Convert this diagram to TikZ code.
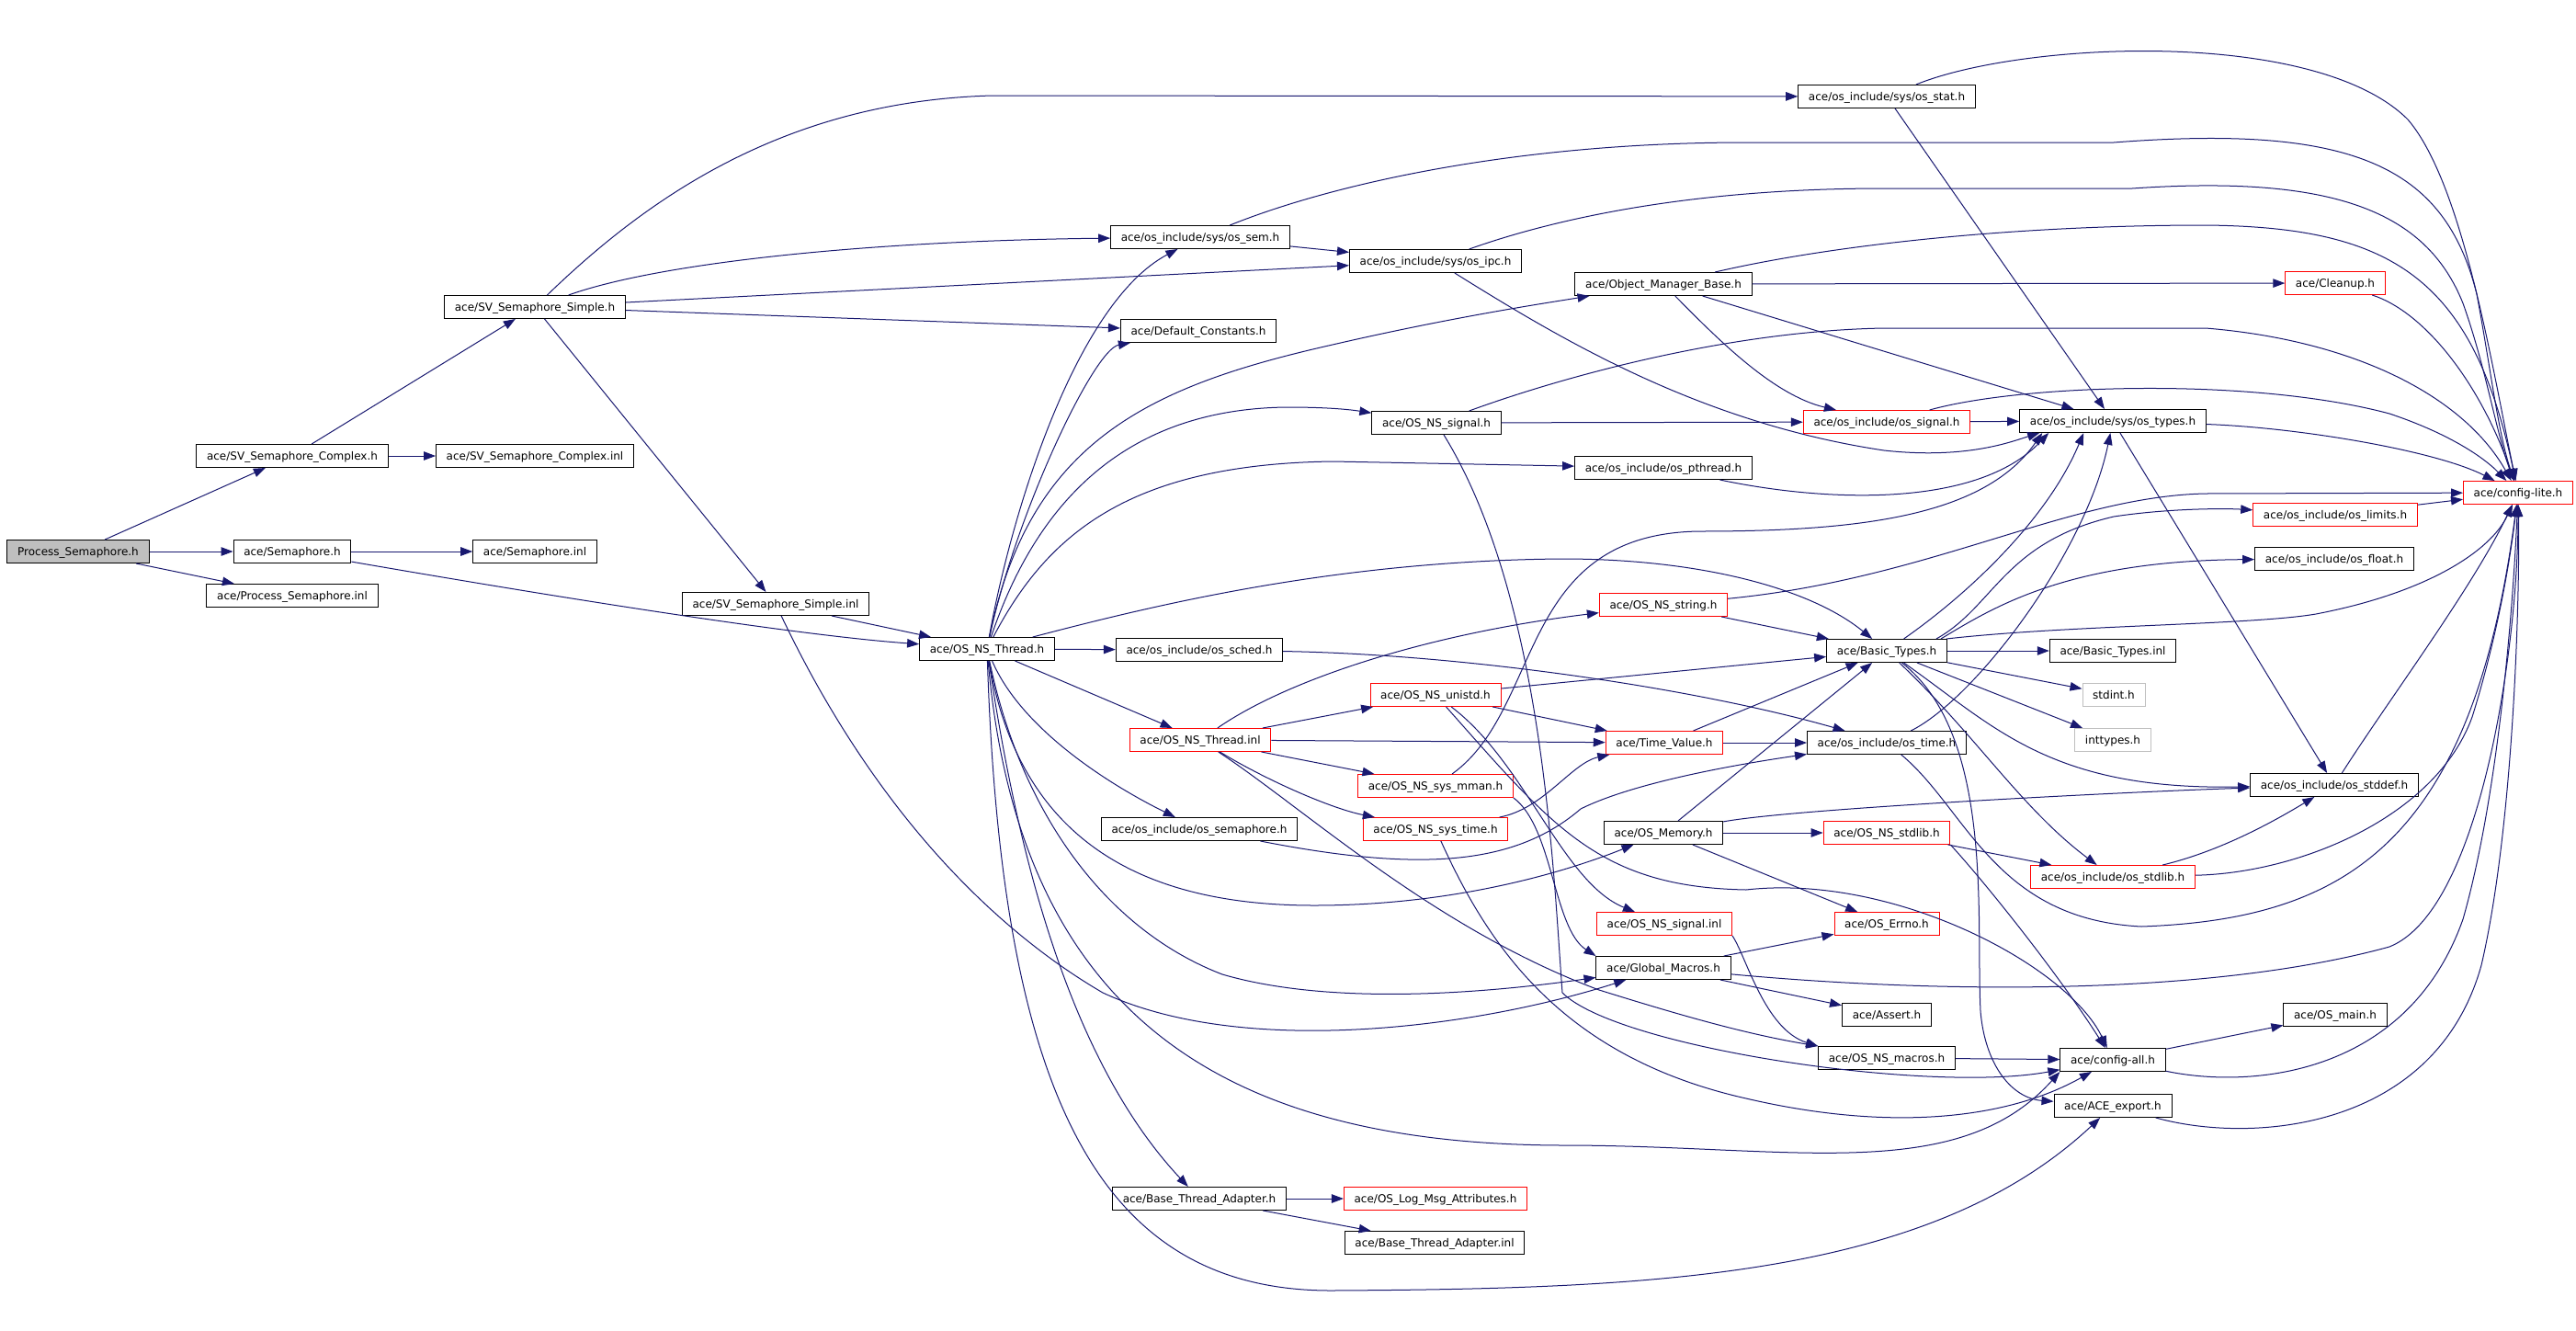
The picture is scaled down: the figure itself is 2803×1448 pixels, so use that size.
\documentclass[tikz,border=0pt]{standalone}
\usepackage{fontspec}
\setmainfont{DejaVu Sans}
\usetikzlibrary{arrows.meta}

\definecolor{edgeblue}{RGB}{25,25,112}
\definecolor{greybox}{RGB}{191,191,191}

\tikzstyle{file}=[draw=black,line width=1pt,minimum height=25pt,inner xsep=11.2pt,inner ysep=0pt,
  text height=10pt,text depth=2pt,font=\fontsize{12}{14}\selectfont]
\tikzstyle{trunc}=[file,draw=red]
\tikzstyle{sysfile}=[file,draw=greybox]
\tikzstyle{mainfile}=[file,fill=greybox]
\tikzstyle{inc}=[draw=edgeblue,line width=1pt,-{Triangle[length=13pt,width=9.5pt]}]

\begin{document}
\begin{tikzpicture}[x=1pt,y=-1pt]
    \fill[white] (0,0) rectangle (2803,1448);
    \useasboundingbox (0,0) rectangle (2803,1448);
    %Start file
    \node[mainfile] (procsem) at (85,600) {Process\_Semaphore.h};
    %Plain headers
    \foreach \pos/\name/\txt in {{(318,496)/svcomplex/{ace/SV\_Semaphore\_Complex.h}},
        {(582,496)/svcomplexinl/{ace/SV\_Semaphore\_Complex.inl}},
        {(318,600)/semaphore/{ace/Semaphore.h}}, {(582,600)/semaphoreinl/{ace/Semaphore.inl}},
        {(318,648)/procseminl/{ace/Process\_Semaphore.inl}},
        {(582,334)/svsimple/{ace/SV\_Semaphore\_Simple.h}},
        {(844,657)/svsimpleinl/{ace/SV\_Semaphore\_Simple.inl}},
        {(1074,706)/nsthread/{ace/OS\_NS\_Thread.h}},
        {(1306,258)/ossem/{ace/os\_include/sys/os\_sem.h}},
        {(1562,284)/osipc/{ace/os\_include/sys/os\_ipc.h}},
        {(1304,360)/defconst/{ace/Default\_Constants.h}},
        {(2053,105)/osstat/{ace/os\_include/sys/os\_stat.h}},
        {(1810,309)/objmgr/{ace/Object\_Manager\_Base.h}},
        {(1563,460)/nssignal/{ace/OS\_NS\_signal.h}},
        {(2299,458)/ostypes/{ace/os\_include/sys/os\_types.h}},
        {(1810,509)/ospthread/{ace/os\_include/os\_pthread.h}},
        {(2540,608)/osfloat/{ace/os\_include/os\_float.h}},
        {(2053,708)/basictypes/{ace/Basic\_Types.h}},
        {(2299,708)/basictypesinl/{ace/Basic\_Types.inl}},
        {(1305,707)/ossched/{ace/os\_include/os\_sched.h}},
        {(2053,808)/ostime/{ace/os\_include/os\_time.h}},
        {(1305,902)/ossemaphore/{ace/os\_include/os\_semaphore.h}},
        {(1810,906)/osmemory/{ace/OS\_Memory.h}},
        {(2540,854)/osstddef/{ace/os\_include/os\_stddef.h}},
        {(1810,1053)/globalmacros/{ace/Global\_Macros.h}},
        {(2053,1104)/assert/{ace/Assert.h}}, {(2541,1104)/osmain/{ace/OS\_main.h}},
        {(2053,1151)/nsmacros/{ace/OS\_NS\_macros.h}},
        {(2299,1153)/configall/{ace/config-all.h}},
        {(2299,1203)/aceexport/{ace/ACE\_export.h}},
        {(1305,1304)/btadapter/{ace/Base\_Thread\_Adapter.h}},
        {(1561,1352)/btadapterinl/{ace/Base\_Thread\_Adapter.inl}}}
    \node[file] (\name) at \pos {\txt};
    %Truncated headers
    \foreach \pos/\name/\txt in {{(2053,459)/ossignal/{ace/os\_include/os\_signal.h}},
        {(2541,308)/cleanup/{ace/Cleanup.h}}, {(2740,536)/configlite/{ace/config-lite.h}},
        {(2541,560)/oslimits/{ace/os\_include/os\_limits.h}},
        {(1810,658)/nsstring/{ace/OS\_NS\_string.h}},
        {(1306,805)/nsthreadinl/{ace/OS\_NS\_Thread.inl}},
        {(1562,756)/nsunistd/{ace/OS\_NS\_unistd.h}},
        {(1811,808)/timevalue/{ace/Time\_Value.h}},
        {(1562,855)/nsmman/{ace/OS\_NS\_sys\_mman.h}},
        {(1562,902)/nssystime/{ace/OS\_NS\_sys\_time.h}},
        {(2053,906)/nsstdlib/{ace/OS\_NS\_stdlib.h}},
        {(2299,954)/osstdlib/{ace/os\_include/os\_stdlib.h}},
        {(1811,1005)/nssignalinl/{ace/OS\_NS\_signal.inl}},
        {(2053,1005)/oserrno/{ace/OS\_Errno.h}},
        {(1562,1304)/logmsg/{ace/OS\_Log\_Msg\_Attributes.h}}}
    \node[trunc] (\name) at \pos {\txt};
    %System headers
    \node[sysfile] (stdint) at (2300,756) {stdint.h};
    \node[sysfile] (inttypes) at (2299,805) {inttypes.h};

    %Straight includes
    \foreach \from/\to in {procsem/svcomplex, procsem/semaphore, procsem/procseminl,
        svcomplex/svsimple, svcomplex/svcomplexinl, semaphore/semaphoreinl,
        svsimple/svsimpleinl, svsimple/osipc, svsimple/defconst, svsimpleinl/nsthread,
        nsthread/ossched, nsthread/nsthreadinl, ossem/osipc, osstat/ostypes,
        objmgr/cleanup, objmgr/ostypes, nssignal/ossignal, ossignal/ostypes,
        ostypes/osstddef, oslimits/configlite, basictypes/basictypesinl,
        basictypes/stdint, basictypes/inttypes, nsthreadinl/nsunistd,
        nsthreadinl/timevalue, nsthreadinl/nsmman, nsunistd/timevalue,
        nsunistd/basictypes, timevalue/ostime, timevalue/basictypes,
        nsstring/basictypes, osmemory/basictypes, osmemory/nsstdlib, osmemory/oserrno,
        nsstdlib/osstdlib, globalmacros/oserrno, globalmacros/assert,
        nsmacros/configall, configall/osmain, btadapter/logmsg, btadapter/btadapterinl}
    \draw[inc] (\from) -- (\to);

    %Left part
    \draw[inc] (semaphore) .. controls (550,640) and (850,690) .. (nsthread);
    \draw[inc] (svsimple) .. controls (700,220) and (850,110) .. (1080,104) -- (osstat);
    \draw[inc] (svsimple) .. controls (720,285) and (950,262) .. (ossem);
    \draw[inc] (svsimpleinl) .. controls (950,880) and (1080,1010) .. (1200,1080)
        .. controls (1350,1150) and (1600,1120) .. (globalmacros);

    %OS_NS_Thread.h fan
    \draw[inc] (nsthread) .. controls (1100,560) and (1170,330) .. (ossem);
    \draw[inc] (nsthread) .. controls (1105,560) and (1190,380) .. (defconst);
    \draw[inc] (nsthread) .. controls (1120,480) and (1250,420) .. (1450,375)
        .. controls (1580,345) and (1680,330) .. (objmgr);
    \draw[inc] (nsthread) .. controls (1130,540) and (1230,445) .. (1400,443)
        .. controls (1440,443) and (1465,445) .. (nssignal);
    \draw[inc] (nsthread) .. controls (1140,580) and (1230,505) .. (1450,502) -- (ospthread);
    \draw[inc] (nsthread) .. controls (1250,660) and (1450,610) .. (1700,608)
        .. controls (1850,608) and (1970,640) .. (basictypes);
    \draw[inc] (nsthread) .. controls (1110,790) and (1200,850) .. (ossemaphore);
    \draw[inc] (nsthread) .. controls (1110,920) and (1250,985) .. (1430,985)
        .. controls (1580,985) and (1700,950) .. (osmemory);
    \draw[inc] (nsthread) .. controls (1110,880) and (1200,1010) .. (1330,1060)
        .. controls (1450,1095) and (1620,1080) .. (globalmacros);
    \draw[inc] (nsthread) .. controls (1110,950) and (1170,1160) .. (btadapter);
    \draw[inc] (nsthread) .. controls (1110,1120) and (1350,1245) .. (1700,1246)
        .. controls (1950,1246) and (2130,1290) .. (configall.south west);
    \draw[inc] (nsthread) .. controls (1090,1200) and (1200,1405) .. (1450,1404)
        .. controls (1800,1402) and (2100,1390) .. (aceexport);

    %OS_NS_Thread.inl and friends
    \draw[inc] (nsthreadinl) .. controls (1400,740) and (1550,690) .. (nsstring);
    \draw[inc] (nsthreadinl) .. controls (1380,850) and (1450,880) .. (nssystime);
    \draw[inc] (nsthreadinl) .. controls (1420,880) and (1560,1010) .. (1740,1077)
        .. controls (1830,1105) and (1900,1125) .. (nsmacros.north west);
    \draw[inc] (nsunistd) .. controls (1660,830) and (1700,960) .. (nssignalinl);
    \draw[inc] (nsunistd) .. controls (1690,900) and (1740,965) .. (1900,968)
        .. controls (2060,950) and (2250,1050) .. (configall);
    \draw[inc] (nsmman) .. controls (1680,770) and (1650,580) .. (1850,578)
        .. controls (2030,578) and (2160,560) .. ([xshift=25pt]ostypes.south west);
    \draw[inc] (nsmman.south east) .. controls (1690,900) and (1690,1010) .. (globalmacros.north west);
    \draw[inc] (nssystime) .. controls (1680,880) and (1710,830) .. (timevalue);
    \draw[inc] (nssystime) .. controls (1620,1030) and (1700,1150) .. (1900,1195)
        .. controls (2050,1230) and (2180,1220) .. (configall);
    \draw[inc] (ossemaphore) .. controls (1550,950) and (1650,940) .. (1720,880)
        .. controls (1780,850) and (1900,830) .. (ostime);
    \draw[inc] (ossched) .. controls (1600,712) and (1850,750) .. (ostime);
    \draw[inc] (nsstring) .. controls (2100,630) and (2250,540) .. (2400,537) -- (configlite);
    \draw[inc] (osmemory) .. controls (1950,880) and (2300,862) .. (osstddef);
    \draw[inc] (globalmacros) .. controls (2100,1080) and (2400,1085) .. (2600,1030)
        .. controls (2700,990) and (2740,700) .. (configlite);
    \draw[inc] (nssignalinl.south east) .. controls (1900,1040) and (1920,1120) .. (nsmacros.north west);

    %Bottom right
    \draw[inc] (configall) .. controls (2450,1185) and (2620,1170) .. (2680,1000)
        .. controls (2720,860) and (2735,650) .. (configlite);
    \draw[inc] (aceexport) .. controls (2450,1245) and (2650,1230) .. (2700,1050)
        .. controls (2735,900) and (2742,650) .. (configlite);
    \draw[inc] (nsstdlib.south east) .. controls (2160,960) and (2240,1060) .. (configall);
    \draw[inc] (osstdlib) .. controls (2420,925) and (2480,890) .. (osstddef);
    \draw[inc] (osstdlib) .. controls (2500,950) and (2650,890) .. (2690,780)
        .. controls (2715,700) and (2730,620) .. (configlite);
    \draw[inc] (osstddef) .. controls (2600,760) and (2690,640) .. (configlite);

    %Basic_Types.h and os_time.h
    \draw[inc] (basictypes) .. controls (2150,640) and (2230,560) .. ([xshift=70pt]ostypes.south west);
    \draw[inc] (ostime) .. controls (2150,760) and (2270,600) .. (ostypes);
    \draw[inc] ([xshift=-12pt]basictypes.north east) .. controls (2170,660) and (2180,590) .. (2300,562)
        .. controls (2360,553) and (2420,553) .. (oslimits);
    \draw[inc] ([xshift=-7pt]basictypes.north east) .. controls (2170,660) and (2250,610) .. (osfloat);
    \draw[inc] ([xshift=-1pt]basictypes.north east) .. controls (2250,680) and (2450,680) .. (2520,668)
        .. controls (2640,645) and (2710,600) .. (configlite);
    \draw[inc] (basictypes) .. controls (2170,790) and (2230,860) .. (osstddef);
    \draw[inc] (basictypes) .. controls (2150,800) and (2200,880) .. (osstdlib);
    \draw[inc] (basictypes) .. controls (2170,800) and (2150,1000) .. (2155,1100)
        .. controls (2160,1160) and (2190,1195) .. (aceexport);
    \draw[inc] (ostime) .. controls (2140,880) and (2170,1000) .. (2330,1008)
        .. controls (2550,1000) and (2690,920) .. (configlite);

    %Top part
    \draw[inc] (ossem) .. controls (1450,200) and (1650,155) .. (1900,155) -- (2300,155)
        .. controls (2560,135) and (2660,180) .. (2695,320) .. controls (2710,400) and (2718,470) .. (configlite);
    \draw[inc] (osstat) .. controls (2200,45) and (2520,30) .. (2620,130)
        .. controls (2680,200) and (2712,400) .. (configlite);
    \draw[inc] (osipc) .. controls (1700,235) and (1850,205) .. (2050,205) -- (2320,205)
        .. controls (2540,190) and (2640,230) .. (2680,330) .. controls (2705,400) and (2716,470) .. (configlite);
    \draw[inc] (objmgr) .. controls (2000,265) and (2200,245) .. (2400,245)
        .. controls (2600,247) and (2690,300) .. (configlite);
    \draw[inc] (cleanup) .. controls (2640,340) and (2700,420) .. (configlite);
    \draw[inc] (nssignal) .. controls (1700,410) and (1880,360) .. (2050,357) -- (2400,357)
        .. controls (2560,370) and (2680,430) .. (configlite);
    \draw[inc] (ossignal) .. controls (2200,418) and (2450,410) .. (2600,450)
        .. controls (2660,470) and (2700,495) .. (configlite);
    \draw[inc] (ostypes) .. controls (2500,465) and (2650,490) .. (configlite);
    \draw[inc] (osipc) .. controls (1700,370) and (1850,460) .. (2050,490)
        .. controls (2140,500) and (2190,480) .. ([xshift=22pt]ostypes.south west);
    \draw[inc] (objmgr) .. controls (1870,370) and (1930,430) .. (ossignal);
    \draw[inc] (ospthread) .. controls (1980,545) and (2150,555) .. ([xshift=32pt]ostypes.south west);
    \draw[inc] (nssignal) .. controls (1680,650) and (1690,950) .. (1700,1080)
        .. controls (1760,1140) and (2100,1190) .. (configall);
\end{tikzpicture}
\end{document}
